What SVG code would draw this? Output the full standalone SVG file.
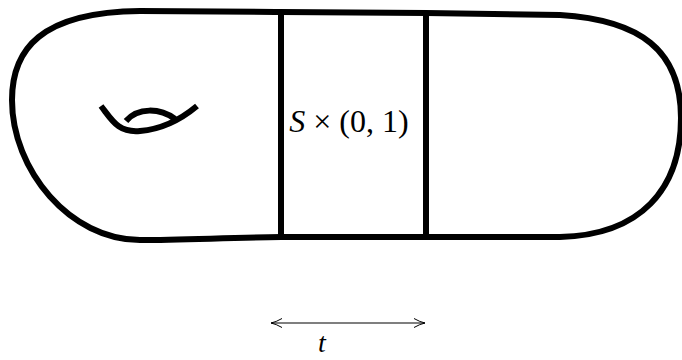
<svg xmlns="http://www.w3.org/2000/svg" width="682" height="360" viewBox="0 0 682 360">
<style>
.thick{fill:none;stroke:#000;stroke-width:6;stroke-linecap:butt;stroke-linejoin:round}
.thin{fill:none;stroke:#000;stroke-width:1.2}
.lbl{font-family:"Liberation Serif","DejaVu Serif",serif;fill:#000}
</style>
<defs>
<marker id="hd" viewBox="0 0 12 10" refX="11" refY="5" markerWidth="12" markerHeight="10" markerUnits="userSpaceOnUse" orient="auto-start-reverse">
<path d="M0 0.5 Q6 4 11 5 Q6 6 0 9.5" fill="none" stroke="#000" stroke-width="1"/>
</marker>
</defs>
<g id="surface">
<path class="thick" d="M281 12 L426 13 L560 15 C640 20 681 50 681 118 C681 190 640 235 560 237 L426 237 L281 237 C220 238 180 240 140 240 C70 240 12 170 12 100 C12 50 40 12 140 11 C200 11 240 12 281 12 Z"/>
</g>
<g id="handle">
<path class="thick" d="M101 106 C112 120 118 133 140 131 C165 129 185 116 197 106"/>
<path class="thick" d="M126 121 C138 107 160 108 175 119"/>
</g>
<g id="neck">
<line class="thick" x1="281" y1="12" x2="281" y2="237"/>
<line class="thick" x1="426" y1="13" x2="426" y2="237"/>
<text class="lbl" x="349" y="132" font-size="32" text-anchor="middle"><tspan font-style="italic">S</tspan> × (0, 1)</text>
</g>
<g id="connectors">
<line class="thin" x1="271" y1="323" x2="425" y2="323" marker-start="url(#hd)" marker-end="url(#hd)"/>
</g>
<text class="lbl" x="322" y="352" font-size="28" text-anchor="middle" font-style="italic">t</text>
</svg>
